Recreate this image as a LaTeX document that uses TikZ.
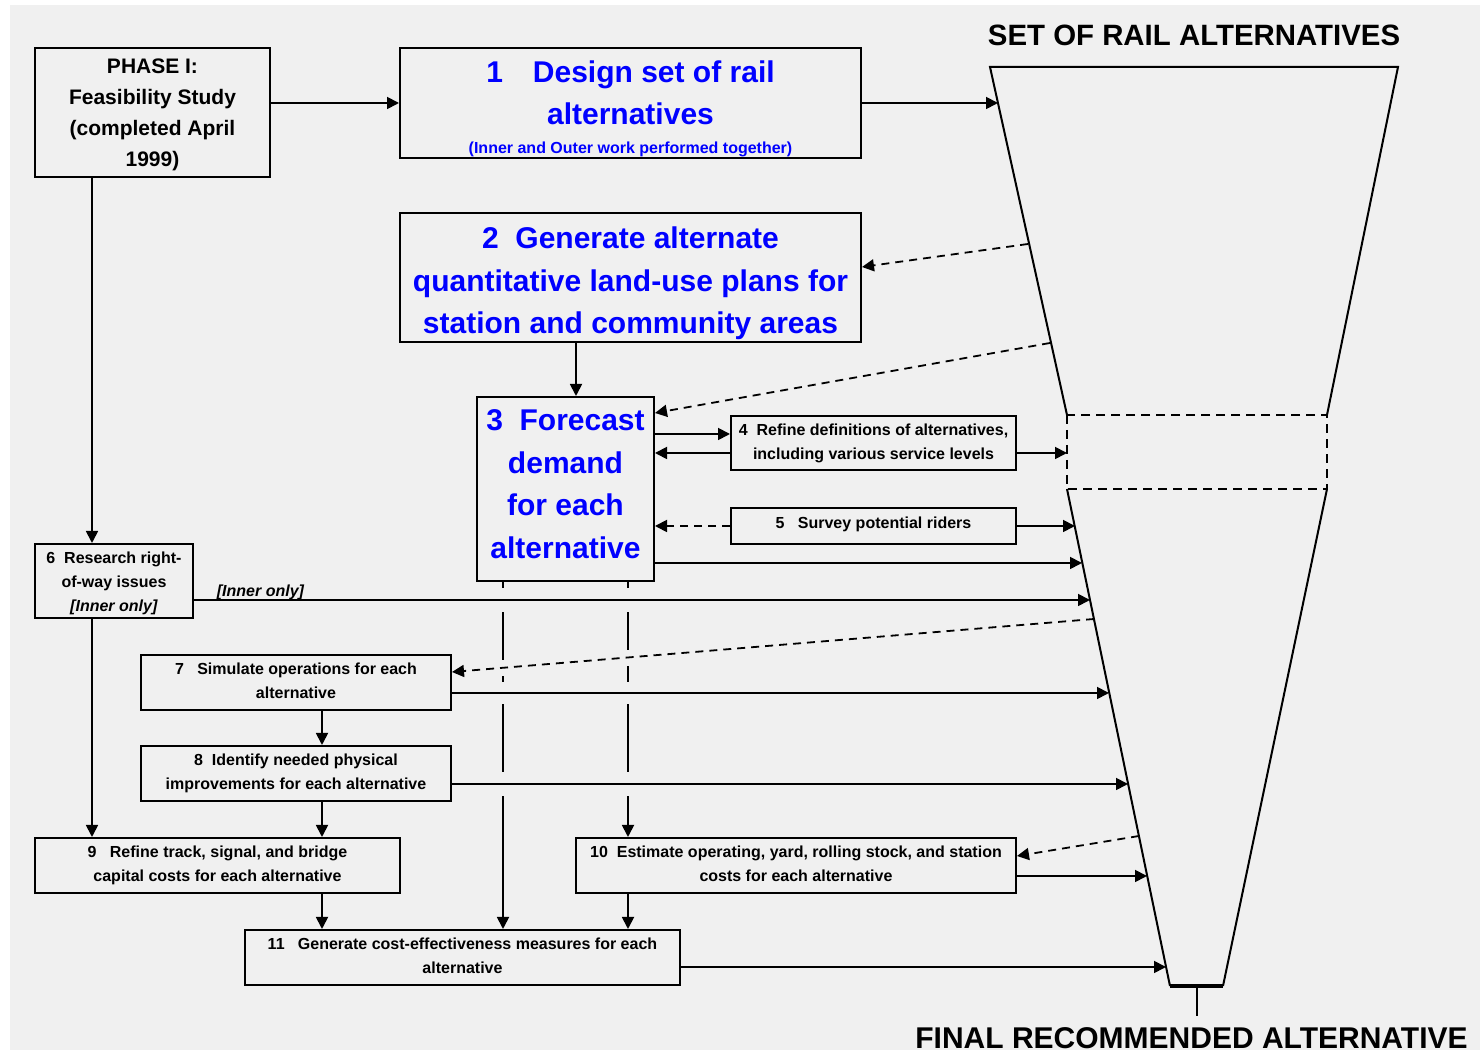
\documentclass[tikz,border=0pt]{standalone}
\usepackage{fontspec}
\setmainfont{Liberation Sans}
\usetikzlibrary{arrows.meta,calc}
\definecolor{bgc}{RGB}{240,240,240}
\tikzstyle{box}=[draw, line width=1pt, inner sep=0, align=center,
                 font=\bfseries\fontsize{8}{12}\selectfont]
\tikzstyle{bigbox}=[box, text=blue, font=\bfseries\fontsize{15}{21.2}\selectfont]
\tikzstyle{phasebox}=[box, font=\bfseries\fontsize{10.5}{15.5}\selectfont]
\tikzstyle{arr}=[-{Triangle[length=6pt,width=6pt]}, line width=0.9pt]
\tikzstyle{darr}=[arr, dash pattern=on 4pt off 3pt]
\tikzstyle{title}=[inner sep=0, font=\bfseries\fontsize{14.7}{17}\selectfont]
\tikzstyle{lbl}=[inner sep=1pt, font=\bfseries\itshape\fontsize{8}{10}\selectfont]
\begin{document}
\begin{tikzpicture}[x=0.5pt, y=-0.5pt]
    \useasboundingbox (0,0) rectangle (1480,1052);
    \fill[bgc] (10,5) rectangle (1480,1050);

    % boxes
    \node[phasebox, minimum width=117.5pt, minimum height=64.5pt] (PH) at (152.5,112.5)
        {\rule{0pt}{10pt}PHASE I:\\Feasibility Study\\(completed April\\1999)};
    \node[bigbox, minimum width=230.5pt, minimum height=55pt] (B1) at (630.5,103)
        {\rule{0pt}{16.5pt}1\quad Design set of rail\\alternatives\\[-7pt]{\fontsize{8}{10}\selectfont(Inner and Outer work performed together)}};
    \node[bigbox, minimum width=230.5pt, minimum height=64.5pt] (B2) at (630.5,277.5)
        {\rule{0pt}{17pt}2~~Generate alternate\\quantitative land-use plans for\\station and community areas};
    \node[bigbox, minimum width=88.5pt, minimum height=92pt] (B3) at (565.5,489)
        {3~~Forecast\\demand\\for each\\\rule[-5pt]{0pt}{0pt}alternative};
    \node[box, minimum width=142.5pt, minimum height=27pt] (B4) at (873.5,443)
        {4~~Refine definitions of alternatives,\\including various service levels};
    \node[box, minimum width=142.5pt, minimum height=18pt] (B5) at (873.5,526)
        {\raisebox{3pt}{5~~~Survey potential riders}};
    \node[box, minimum width=79pt, minimum height=37pt] (B6) at (114,581)
        {\rule{0pt}{8pt}6~~Research right-\\of-way issues\\\textit{[Inner only]}};
    \node[box, minimum width=155pt, minimum height=27.5pt] (B7) at (296,682.5)
        {7~~~Simulate operations for each\\\rule[-2pt]{0pt}{0pt}alternative};
    \node[box, minimum width=155pt, minimum height=27.5pt] (B8) at (296,773.5)
        {8~~Identify needed physical\\improvements for each alternative};
    \node[box, minimum width=182.5pt, minimum height=27.5pt] (B9) at (217.5,865.5)
        {9~~~Refine track, signal, and bridge\\capital costs for each alternative};
    \node[box, minimum width=220pt, minimum height=27.5pt] (B10) at (796,865.5)
        {10~~Estimate operating, yard, rolling stock, and station\\\rule[-2pt]{0pt}{0pt}costs for each alternative};
    \node[box, minimum width=217.5pt, minimum height=27.5pt] (B11) at (462.5,957.5)
        {11~~~Generate cost-effectiveness measures for each\\\rule[-2pt]{0pt}{0pt}alternative};

    % funnel
    \coordinate (ftl) at (990,67);
    \coordinate (ftr) at (1398,67);
    \coordinate (fml) at (1067,415);
    \coordinate (fmr) at (1327,415);
    \coordinate (fnl) at (1067,489);
    \coordinate (fnr) at (1327,489);
    \coordinate (fbl) at (1170,986);
    \coordinate (fbr) at (1223,986);
    \draw[line width=1pt] (fml) -- (ftl) -- (ftr) -- (fmr);
    \draw[line width=1pt, dash pattern=on 4.5pt off 3pt] (fml) rectangle (fnr);
    \draw[line width=1pt] (fnl) -- (fbl) (fnr) -- (fbr);
    \draw[line width=2.2pt] (fbl) -- (fbr);
    \draw[line width=1pt] ($(fbl)!0.5!(fbr)$) coordinate (stem) -- ++(0,30);
    \node[title] (T1) at (1194,35) {SET OF RAIL ALTERNATIVES};
    \node[title, font=\bfseries\fontsize{15}{17}\selectfont] (T2) at (1191.5,1038) {FINAL RECOMMENDED ALTERNATIVE};

    % ends on the funnel
    \coordinate (f1) at (998,103);
    \coordinate (g2) at (1028,244);
    \coordinate (g3) at (1050,343);
    \coordinate (f4) at (1067,453);
    \coordinate (f5) at (1075,526);
    \coordinate (f3) at (1082,563);
    \coordinate (f6) at (1090,600);
    \coordinate (g7) at (1094,619);
    \coordinate (f7) at (1109,693);
    \coordinate (f8) at (1128,784);
    \coordinate (g10) at (1139,836);
    \coordinate (f10) at (1147,876);
    \coordinate (f11) at (1166,967);

    % columns
    \coordinate (v0) at (92,0);
    \coordinate (v1) at (503,0);
    \coordinate (v2) at (628,0);
    \coordinate (v3) at (322,0);
    \coordinate (v4) at (576,0);

    % long drops from 3, broken where lines cross them
    \draw[arr] (B3.south -| v1) -- (B11.north -| v1);
    \draw[arr] (B3.south -| v2) -- (B10.north -| v2);
    \foreach \x/\y/\h in {503/600/12, 628/600/12, 503/668/8, 628/658/8,
                          503/693/11, 628/693/11, 503/784/12, 628/784/12}
        \fill[bgc] (\x-4,\y-\h) rectangle (\x+4,\y+\h);

    \draw[arr] (PH.east |- f1) -- (B1.west |- f1);
    \draw[arr] (B1) -- (f1);
    \draw[darr] (g2) -- (B2.east |- 0,267);
    \draw[arr] (B2.south -| v4) -- (B3.north -| v4);
    \draw[darr] (g3) -- (B3.east |- 0,413);
    \draw[arr] (B3.east |- 0,434) -- (B4.west |- 0,434);
    \draw[arr] (B4.west |- 0,453) -- (B3.east |- 0,453);
    \draw[arr] (B4.east |- f4) -- (f4);
    \draw[darr] (B5) -- (B3.east |- B5);
    \draw[arr] (B5) -- (f5);
    \draw[arr] (B3.east |- f3) -- (f3);
    \draw[arr] (B6.east |- f6) -- node[lbl, pos=0, above right, xshift=10pt, yshift=-1.5pt] {[Inner only]} (f6);
    \draw[darr] (g7) -- (B7.east |- 0,672);
    \draw[arr] (B7.east |- f7) -- (f7);
    \draw[arr] (B8.east |- f8) -- (f8);
    \draw[darr] (g10) -- (B10.east |- 0,856);
    \draw[arr] (B10.east |- f10) -- (f10);
    \draw[arr] (B11.east |- f11) -- (f11);

    \draw[arr] (PH.south -| v0) -- (B6.north -| v0);
    \draw[arr] (B6.south -| v0) -- (B9.north -| v0);
    \draw[arr] (B7.south -| v3) -- (B8.north -| v3);
    \draw[arr] (B8.south -| v3) -- (B9.north -| v3);
    \draw[arr] (B9.south -| v3) -- (B11.north -| v3);
    \draw[arr] (B10.south -| v2) -- (B11.north -| v2);
\end{tikzpicture}
\end{document}
